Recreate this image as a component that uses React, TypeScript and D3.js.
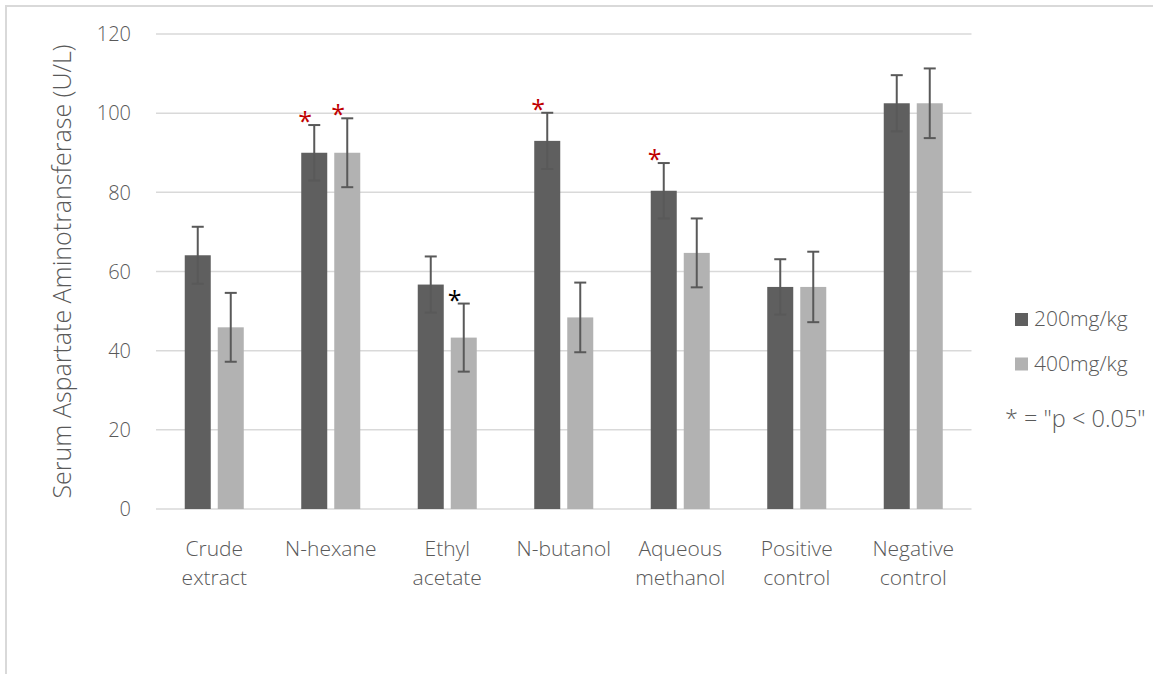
import React from 'react';
import * as d3 from 'd3';

const categories = [
  'Crude extract',
  'N-hexane',
  'Ethyl acetate',
  'N-butanol',
  'Aqueous methanol',
  'Positive control',
  'Negative control',
];
const seriesNames = ['200mg/kg', '400mg/kg'];
const dose200 = [64.1, 90.0, 56.7, 93.0, 80.4, 56.1, 102.5];
const dose400 = [45.9, 90.0, 43.3, 48.4, 64.7, 56.1, 102.5];
const err200 = [7.2, 7.0, 7.1, 7.1, 7.0, 7.0, 7.1];
const err400 = [8.7, 8.7, 8.6, 8.8, 8.7, 8.9, 8.8];
// asterisk colour per bar ('' = no mark)
const mark200 = ['', '#c00000', '', '#c00000', '#c00000', '', ''];
const mark400 = ['', '#c00000', '#000000', '', '', '', ''];
const yTicks = [0, 20, 40, 60, 80, 100, 120];
const yTitle = 'Serum Aspartate Aminotransferase (U/L)';
const noteText = '* = "p < 0.05"';

const W = 1153;
const H = 674;
const font = '"Open Sans", "Noto Sans", sans-serif';
const textColor = '#595959';
const gridColor = '#d9d9d9';
const barColors = ['#5f5f5f', '#b2b2b2'];

export default function App() {
  const x0 = d3.scaleBand<string>().domain(categories).range([156, 971.5]).padding(0);
  const x1 = d3
    .scaleBand<string>()
    .domain(seriesNames)
    .range([0, x0.bandwidth()])
    .paddingInner(0.212)
    .paddingOuter(0.871);
  const y = d3.scaleLinear().domain([0, 120]).range([509, 34]);

  const series = [
    { name: seriesNames[0], values: dose200, errs: err200, marks: mark200, color: barColors[0] },
    { name: seriesNames[1], values: dose400, errs: err400, marks: mark400, color: barColors[1] },
  ];

  return (
    <svg
      width={W}
      height={H}
      style={{ position: 'absolute', left: 0, top: 0, background: '#fff' }}
      fontFamily={font}
      fontWeight={300}
    >
      {/* chart frame, cut off at right and bottom */}
      <path d={`M6,${H + 5} V6 H${W + 5}`} fill="none" stroke={gridColor} strokeWidth={2} />

      {/* gridlines + tick labels */}
      {yTicks.map((t) => (
        <g key={t}>
          <line x1={156} x2={971.5} y1={y(t)} y2={y(t)} stroke={gridColor} strokeWidth={1.5} />
          <text x={131} y={y(t)} dy="0.36em" textAnchor="end" fontSize={20} fill={textColor}>
            {t}
          </text>
        </g>
      ))}

      <text
        transform={`translate(71,${(y(0) + y(120)) / 2}) rotate(-90)`}
        textAnchor="middle"
        fontSize={25}
        fill={textColor}
      >
        {yTitle}
      </text>

      {/* bars */}
      {series.map((s) => (
        <g key={s.name}>
          {categories.map((c, i) => {
            const bx = x0(c)! + x1(s.name)!;
            const cx = bx + x1.bandwidth() / 2;
            const top = y(s.values[i]);
            const eHi = y(s.values[i] + s.errs[i]);
            const eLo = y(s.values[i] - s.errs[i]);
            return (
              <g key={c}>
                <rect x={bx} y={top} width={x1.bandwidth()} height={y(0) - top} fill={s.color} />
                <g stroke="#595959" strokeWidth={2}>
                  <line x1={cx} x2={cx} y1={eHi} y2={eLo} />
                  <line x1={cx - 6} x2={cx + 6} y1={eHi} y2={eHi} />
                  <line x1={cx - 6} x2={cx + 6} y1={eLo} y2={eLo} />
                </g>
                {s.marks[i] && (
                  <text
                    x={cx - 9}
                    y={eHi + 5}
                    textAnchor="middle"
                    fontSize={25}
                    fontWeight={400}
                    fill={s.marks[i]}
                  >
                    *
                  </text>
                )}
              </g>
            );
          })}
        </g>
      ))}

      {/* category labels */}
      {categories.map((c) => {
        const lines = c.split(' ');
        const cx = x0(c)! + x0.bandwidth() / 2;
        return (
          <text key={c} textAnchor="middle" fontSize={21} fill={textColor}>
            {lines.map((l, k) => (
              <tspan key={k} x={cx} y={556 + k * 29}>
                {l}
              </tspan>
            ))}
          </text>
        );
      })}

      {/* legend */}
      {series.map((s, i) => (
        <g key={s.name} transform={`translate(1015,${313 + i * 44.5})`}>
          <rect width={13} height={13} fill={s.color} />
          <text x={19} y={13} fontSize={21} fill={textColor}>
            {s.name}
          </text>
        </g>
      ))}
      <text x={1005} y={427} fontSize={23.5} fill={textColor}>
        {noteText}
      </text>
    </svg>
  );
}
